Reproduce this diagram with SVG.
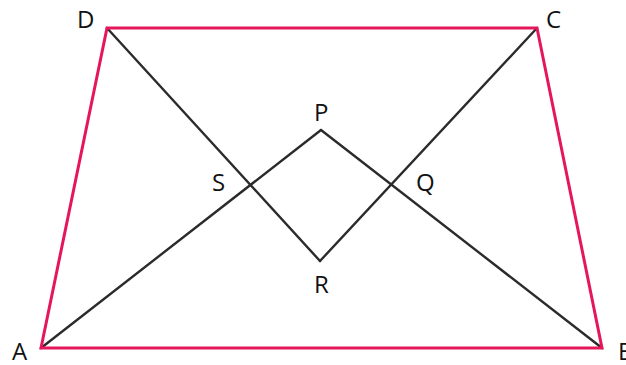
<svg xmlns="http://www.w3.org/2000/svg" width="626" height="365" viewBox="0 0 626 365">
<style>
.red{stroke:#e5175a;stroke-width:3;fill:none;stroke-linejoin:miter}
.blk{stroke:#2b2b2b;stroke-width:2.4;fill:none;stroke-linecap:round}
text{font-family:"Open Sans","DejaVu Sans",sans-serif;font-size:24px;fill:#111}
</style>
<rect width="626" height="365" fill="#fff"/>
<g id="connectors">
<line class="blk" x1="107" y1="28" x2="320" y2="261"/>
<line class="blk" x1="537" y1="28" x2="320" y2="261"/>
<line class="blk" x1="41" y1="348" x2="321" y2="130"/>
<line class="blk" x1="602" y1="348" x2="321" y2="130"/>
</g>
<g id="trapezoid">
<polygon class="red" points="41,348 602,348 537,28 107,28"/>
</g>
<g id="labels">
<text id="D" x="77" y="28">D</text>
<text id="C" x="546" y="28">C</text>
<text id="A" x="12" y="360">A</text>
<text id="B" x="618" y="360">B</text>
<text id="P" x="314" y="121">P</text>
<text id="R" x="314" y="293">R</text>
<text id="S" x="212" y="191">S</text>
<text id="Q" x="416" y="191">Q</text>
</g>
</svg>
